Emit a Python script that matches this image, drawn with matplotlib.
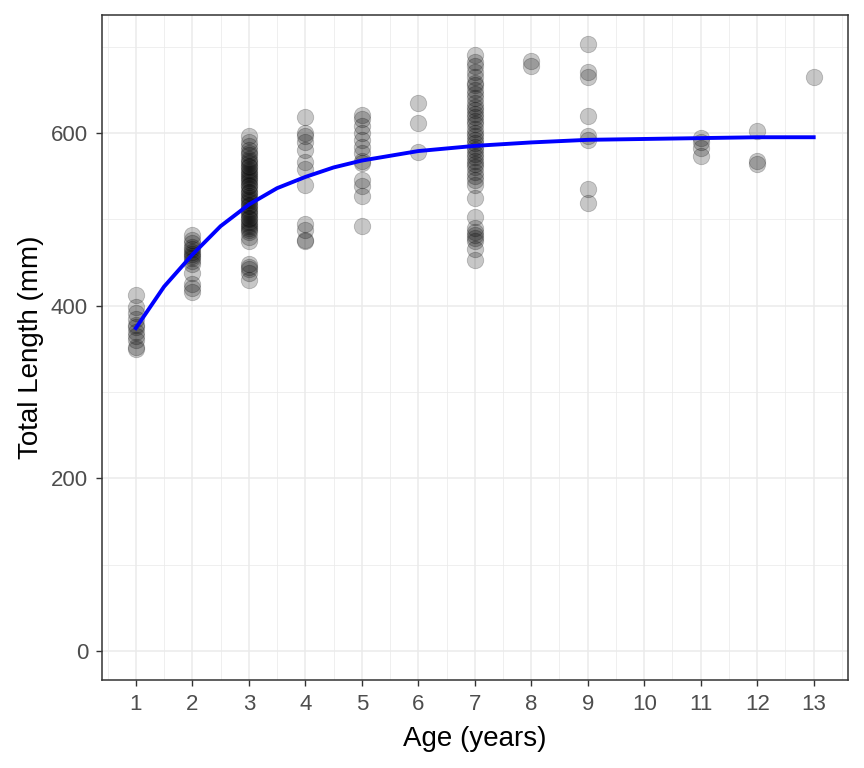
import matplotlib
matplotlib.use("Agg")
import matplotlib.pyplot as plt
import numpy as np

plt.rcParams['font.family'] = ['Liberation Sans', 'DejaVu Sans']

# Observed lengths by age (mm)
age1 = [412, 398, 392, 385, 378, 375, 370, 365, 360, 352, 350]
age2 = [482, 476, 472, 468, 465, 462, 460, 457, 455, 452, 448, 438, 425, 420, 416]
age3 = [597, 590, 585, 580, 577, 574, 570, 567, 565, 562, 560, 557, 555, 552, 550,
        548, 545, 543, 540, 538, 535, 532, 530, 527, 525, 522, 520, 517, 515, 512,
        510, 507, 505, 502, 500, 497, 495, 492, 490, 487, 485, 480, 475, 448, 445,
        442, 438, 430]
age4 = [618, 600, 597, 590, 580, 566, 558, 540, 495, 488, 476, 475]
age5 = [621, 616, 608, 600, 592, 584, 577, 568, 565, 545, 538, 527, 492]
age6 = [635, 611, 578]
age7 = [690, 682, 677, 670, 665, 658, 655, 650, 645, 640, 635, 630, 627, 622, 618,
        614, 610, 605, 600, 596, 592, 588, 584, 580, 576, 572, 568, 564, 560, 555,
        550, 545, 540, 525, 503, 490, 485, 482, 478, 475, 465, 453]
age8 = [683, 677]
age9 = [703, 670, 665, 620, 597, 592, 535, 519]
age11 = [594, 590, 583, 573]
age12 = [602, 567, 564]
age13 = [665]

groups = {1: age1, 2: age2, 3: age3, 4: age4, 5: age5, 6: age6, 7: age7,
          8: age8, 9: age9, 11: age11, 12: age12, 13: age13}

# Fitted growth curve
curve_age = [1, 1.5, 2, 2.5, 3, 3.5, 4, 4.5, 5, 6, 7, 8, 9, 10, 11, 12, 13]
curve_len = [374, 422, 459, 492, 517, 536, 549, 560, 568, 579, 585, 589, 592, 593, 594, 595, 595]

x_ticks = list(range(1, 14))
y_ticks = [0, 200, 400, 600]

fig = plt.figure(figsize=(8.64, 7.68), dpi=100)
ax = fig.add_axes([0.118, 0.1146, 0.863, 0.866])

xs, ys = [], []
for a, vals in groups.items():
    xs += [a] * len(vals)
    ys += vals
ax.scatter(xs, ys, s=140, color='black', alpha=0.22, edgecolors='black', linewidths=0.6, zorder=3)
ax.plot(curve_age, curve_len, color='#0000FF', linewidth=2.8, zorder=4)

ax.set_xlim(0.4, 13.6)
ax.set_ylim(-33.6, 736.7)
ax.set_xticks(x_ticks)
ax.set_yticks(y_ticks)
ax.set_xticks(np.arange(0.5, 14, 1.0), minor=True)
ax.set_yticks([100, 300, 500, 700], minor=True)
ax.grid(which='major', color='#EBEBEB', linewidth=1.1, zorder=0)
ax.grid(which='minor', color='#EBEBEB', linewidth=0.55, zorder=0)
ax.set_axisbelow(True)
ax.tick_params(which='major', direction='out', length=4, width=1, color='#333333',
               labelsize=16, labelcolor='#4D4D4D', pad=6)
ax.tick_params(which='minor', length=0)
for sp in ax.spines.values():
    sp.set_color('#333333')
    sp.set_linewidth(1.1)

ax.set_xlabel('Age (years)', fontsize=20, color='black', labelpad=8)
ax.set_ylabel('Total Length (mm)', fontsize=20, color='black', labelpad=5)

fig.savefig('out.png', dpi=100)
